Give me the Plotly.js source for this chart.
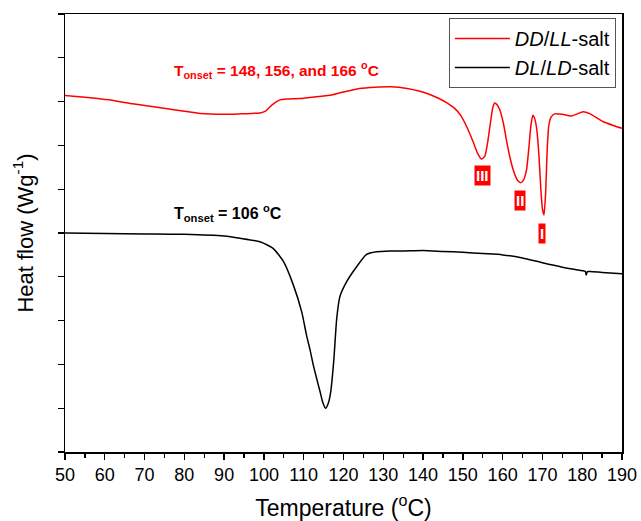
<!DOCTYPE html>
<html>
<head>
<meta charset="utf-8">
<script src="https://cdn.plot.ly/plotly-3.0.1.min.js"></script>
<style>html,body{margin:0;padding:0;background:#fff;}#chart{width:641px;height:521px;}</style>
</head>
<body>
<div id="chart"></div>
<script>
// DD/LL-salt (red)
var tempRed = [50,55,61,67,74,80,84,90,94,97,99,100.5,102,104,106,109,113,117,120,124,128,132,136,139,142,144,146,148,149.5,151,152.5,153.7,154.7,155.5,156.2,156.9,157.5,158,158.6,159.3,160.2,161,161.8,162.8,163.8,164.6,165.3,166,166.6,167.1,167.6,168.1,168.6,169.1,169.6,170.0,170.4,170.8,171.2,171.6,172.2,173.1,175,177.3,178.5,180.2,182,185.3,188,190];
var flowRed = [8.14,8.10,8.04,7.95,7.86,7.78,7.73,7.71,7.72,7.73,7.74,7.79,7.92,8.04,8.06,8.07,8.11,8.15,8.22,8.30,8.33,8.34,8.30,8.24,8.15,8.07,7.97,7.84,7.68,7.42,7.10,6.82,6.69,6.75,7.05,7.50,7.85,7.97,7.93,7.81,7.50,7.10,6.74,6.40,6.20,6.15,6.22,6.44,6.95,7.45,7.69,7.60,7.35,6.80,6.00,5.55,5.41,5.9,6.9,7.45,7.65,7.72,7.71,7.67,7.71,7.77,7.72,7.54,7.45,7.39];
// DL/LD-salt (black)
var tempBlack = [50,60,70,80,90,94,99,102.3,104.9,107.4,109.5,110.7,111.6,112.4,113.3,114.1,114.8,115.5,116.2,116.8,117.2,117.6,118.3,119.1,120.8,123.3,125.8,128.3,131.7,135,140,145,150,155,160,165,170,175,180,180.8,181,181.3,182,185,190];
var flowBlack = [5.0,4.99,4.98,4.97,4.93,4.88,4.80,4.65,4.35,3.81,3.20,2.67,2.33,1.99,1.66,1.38,1.13,1.0,1.12,1.38,1.72,2.14,3.05,3.55,3.89,4.23,4.51,4.57,4.59,4.59,4.60,4.58,4.56,4.53,4.50,4.43,4.32,4.22,4.14,4.12,4.04,4.12,4.12,4.10,4.07];
var seriesNames = ['<i>DD</i>/<i>LL</i>-salt', '<i>DL</i>/<i>LD</i>-salt'];
var xTicks = [50,60,70,80,90,100,110,120,130,140,150,160,170,180,190];
// peak markers
var peakLabels = ['III','II','I'];
var peakX = [155.0,164.3,169.8];
var peakY = [6.32,5.75,5.0];

var traces = [
  {x: tempRed, y: flowRed, type:'scatter', mode:'lines', name: seriesNames[0],
   line:{color:'#ff0000', width:1.5, shape:'spline', smoothing:0.5}},
  {x: tempBlack, y: flowBlack, type:'scatter', mode:'lines', name: seriesNames[1],
   line:{color:'#000000', width:1.5, shape:'spline', smoothing:0.6}}
];

var F = 'Arial, Liberation Sans, sans-serif';
var annotations = [
  {x:77, y:8.72, xref:'x', yref:'y', xanchor:'left', yanchor:'middle', showarrow:false,
   text:'<b>T<sub>onset</sub> = 148, 156, and 166 <sup>o</sup>C</b>', font:{family:F, size:15.5, color:'#ff0000'}},
  {x:77, y:5.46, xref:'x', yref:'y', xanchor:'left', yanchor:'middle', showarrow:false,
   text:'<b>T<sub>onset</sub> = 106 <sup>o</sup>C</b>', font:{family:F, size:16, color:'#000000'}}
];
for (var i=0;i<peakLabels.length;i++){
  annotations.push({x:peakX[i], y:peakY[i], xref:'x', yref:'y', showarrow:false,
    text:'<b>'+peakLabels[i]+'</b>', bgcolor:'#ff0000', borderpad:1,
    font:{family:F, size:15, color:'#ffffff'}});
}

var layout = {
  width:641, height:521,
  margin:{l:65, r:19, t:14, b:69},
  paper_bgcolor:'#ffffff', plot_bgcolor:'#ffffff',
  font:{family:F, color:'#000'},
  showlegend:true,
  legend:{x:0.989, y:0.991, xanchor:'right', yanchor:'top', bgcolor:'#ffffff',
    bordercolor:'#555555', borderwidth:1, font:{size:20, color:'#000'}, itemwidth:55,
    tracegroupgap:0},
  xaxis:{range:[50,190], tickvals:xTicks, ticks:'outside', ticklen:6, tickwidth:1.3, tickcolor:'#000',
    minor:{dtick:5, ticks:'outside', ticklen:4, tickwidth:1.3, tickcolor:'#000'},
    showline:true, linecolor:'#000', linewidth:1.5, mirror:true, showgrid:false, zeroline:false,
    tickfont:{size:18, color:'#000'},
    title:{text:'Temperature (<sup>o</sup>C)', font:{size:23, color:'#000'}, standoff:16}},
  yaxis:{range:[0,10], dtick:1, tick0:0, ticks:'outside', ticklen:6, tickwidth:1.3, tickcolor:'#000',
    showticklabels:false, showline:true, linecolor:'#000', linewidth:1.5, mirror:true,
    showgrid:false, zeroline:false,
    title:{text:'Heat flow (Wg<sup>-1</sup>)', font:{size:22, color:'#000'}, standoff:18}},
  annotations: annotations
};

Plotly.newPlot('chart', traces, layout, {displayModeBar:false, staticPlot:true});
</script>
</body>
</html>
